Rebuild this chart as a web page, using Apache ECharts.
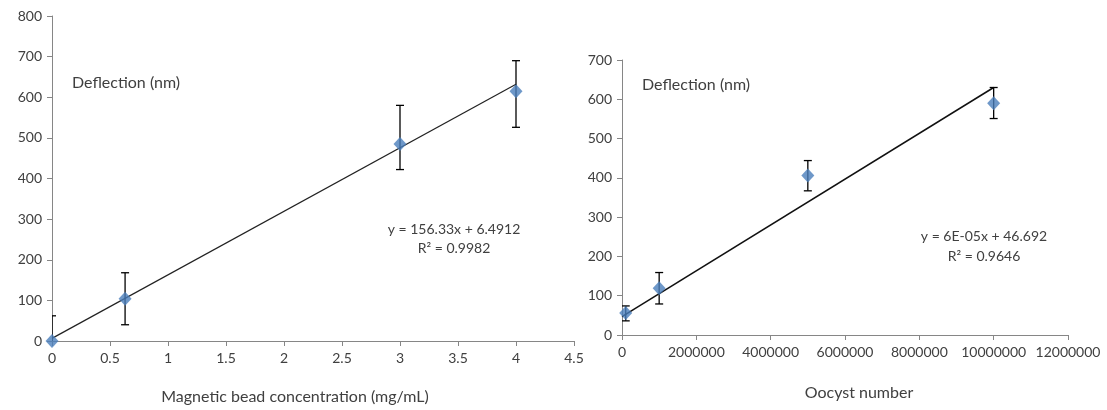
<!DOCTYPE html>
<html><head><meta charset="utf-8">
<script src="https://cdn.jsdelivr.net/npm/echarts@6/dist/echarts.min.js"></script>
<style>html,body{margin:0;padding:0;background:#fff}#c{width:1107px;height:410px}</style>
</head><body><div id="c"></div>
<script>
// Left panel: magnetic bead concentration
const beadX = [0, 0.63, 3, 4];
const beadY = [0, 104, 485, 615];
const beadErrLow = [-62, 40, 422, 526];
const beadErrHigh = [62, 168, 580, 690];
const beadTrend = [[0, 6.49], [4, 631.8]];
const beadEq = ['y = 156.33x + 6.4912', 'R² = 0.9982'];
// Right panel: oocyst number
const oocX = [100000, 1000000, 5000000, 10000000];
const oocY = [56, 119, 406, 590];
const oocErrLow = [36, 79, 367, 551];
const oocErrHigh = [74, 159, 444, 630];
const oocTrend = [[0, 47], [10000000, 630]];
const oocEq = ['y = 6E-05x + 46.692', 'R² = 0.9646'];
const yLabel = 'Deflection (nm)';
const xTitleLeft = 'Magnetic bead concentration (mg/mL)';
const xTitleRight = 'Oocyst number';

const FONT = 'Lato';
const TXT = '#404040';
const AX = '#868686';
const BLUE = '#4A7EBB';

function axisCommon() {
  return {
    axisLine: {show: true, lineStyle: {color: AX, width: 1}},
    axisTick: {show: true, length: 5, lineStyle: {color: AX}},
    axisLabel: {color: TXT, fontFamily: FONT, fontSize: 14, margin: 10, formatter: v => String(v)},
    splitLine: {show: false}
  };
}
function errSeries(xi, yi, lo, hi, xs) {
  const d = xs.map((x, i) => [x, lo[i], hi[i]]);
  return {
    type: 'custom', xAxisIndex: xi, yAxisIndex: yi, data: d, z: 3,
    clip: true,
    renderItem: function (params, api) {
      const x = api.value(0);
      const a = api.coord([x, api.value(1)]);
      const b = api.coord([x, api.value(2)]);
      const w = 4;
      return {type: 'group', children: [
        {type: 'line', shape: {x1: a[0], y1: a[1], x2: b[0], y2: b[1]}, style: {stroke: '#000', lineWidth: 1.3}},
        {type: 'line', shape: {x1: a[0]-w, y1: a[1], x2: a[0]+w, y2: a[1]}, style: {stroke: '#000', lineWidth: 1.3}},
        {type: 'line', shape: {x1: b[0]-w, y1: b[1], x2: b[0]+w, y2: b[1]}, style: {stroke: '#000', lineWidth: 1.3}}
      ]};
    }
  };
}
const chart = echarts.init(document.getElementById('c'), null, {renderer: 'canvas'});
const T = (s, x, y, size, align) => ({type: 'text', x: x, y: y, style: {text: s, fill: TXT, font: size + 'px ' + FONT, align: align || 'left', verticalAlign: 'middle'}});
chart.setOption({
  animation: false,
  backgroundColor: '#fff',
  grid: [
    {left: 52, top: 16, width: 522, height: 325},
    {left: 622, top: 60, width: 446, height: 275}
  ],
  xAxis: [
    Object.assign(axisCommon(), {type: 'value', gridIndex: 0, min: 0, max: 4.5, interval: 0.5}),
    Object.assign(axisCommon(), {type: 'value', gridIndex: 1, min: 0, max: 12000000, interval: 2000000})
  ],
  yAxis: [
    Object.assign(axisCommon(), {type: 'value', gridIndex: 0, min: 0, max: 800, interval: 100}),
    Object.assign(axisCommon(), {type: 'value', gridIndex: 1, min: 0, max: 700, interval: 100})
  ],
  series: [
    {type: 'line', xAxisIndex: 0, yAxisIndex: 0, data: beadTrend, symbol: 'none', lineStyle: {color: '#222', width: 1.2}, z: 2},
    errSeries(0, 0, beadErrLow, beadErrHigh, beadX),
    {type: 'scatter', xAxisIndex: 0, yAxisIndex: 0, data: beadX.map((x, i) => [x, beadY[i]]), symbol: 'diamond', symbolSize: [13, 14], itemStyle: {color: BLUE}, z: 4, clip: false},
    {type: 'line', xAxisIndex: 1, yAxisIndex: 1, data: oocTrend, symbol: 'none', lineStyle: {color: '#111', width: 1.5}, z: 2},
    errSeries(1, 1, oocErrLow, oocErrHigh, oocX),
    {type: 'scatter', xAxisIndex: 1, yAxisIndex: 1, data: oocX.map((x, i) => [x, oocY[i]]), symbol: 'diamond', symbolSize: [13, 14], itemStyle: {color: BLUE}, z: 4}
  ],
  graphic: [
    T(yLabel, 72, 83, 16),
    T(yLabel, 642, 85, 16),
    T(beadEq[0], 454, 229, 14, 'center'),
    T(beadEq[1], 454, 248, 14, 'center'),
    T(oocEq[0], 984, 236, 14, 'center'),
    T(oocEq[1], 984, 256, 14, 'center'),
    T(xTitleLeft, 295, 397, 16, 'center'),
    T(xTitleRight, 859, 393, 16, 'center')
  ]
});
</script></body></html>
